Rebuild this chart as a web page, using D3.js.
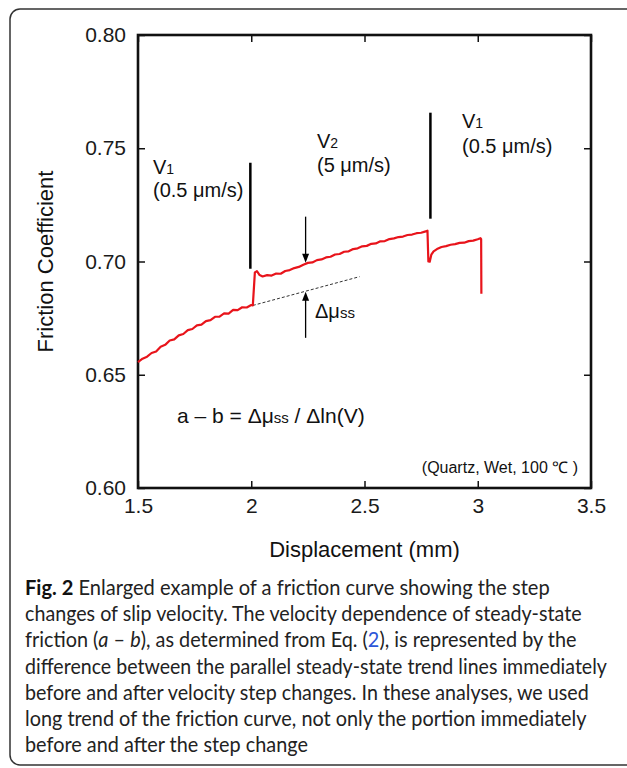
<!DOCTYPE html>
<html>
<head>
<meta charset="utf-8">
<script src="https://cdn.jsdelivr.net/npm/d3@7"></script>
<style>
  body { margin: 0; background: #fff; }
  svg { display: block; }
</style>
</head>
<body>
<script>
// friction curve (displacement in mm, friction coefficient)
var disp = [1.500, 1.520, 1.540, 1.560, 1.580, 1.600, 1.620, 1.640, 1.660, 1.680,
            1.700, 1.720, 1.740, 1.760, 1.780, 1.800, 1.820, 1.840, 1.860, 1.880,
            1.900, 1.920, 1.940, 1.960, 1.980, 2.000, 2.007, 2.016, 2.025, 2.037,
            2.050, 2.070, 2.090, 2.110, 2.130, 2.150, 2.170, 2.190, 2.210, 2.230,
            2.250, 2.270, 2.290, 2.310, 2.330, 2.350, 2.370, 2.390, 2.410, 2.430,
            2.450, 2.470, 2.490, 2.510, 2.530, 2.550, 2.570, 2.590, 2.610, 2.630,
            2.650, 2.670, 2.690, 2.710, 2.730, 2.750, 2.770, 2.778, 2.782, 2.788,
            2.795, 2.805, 2.820, 2.840, 2.860, 2.880, 2.900, 2.920, 2.940, 2.960,
            2.980, 3.000, 3.012, 3.015, 3.016];
var mu = [0.6556, 0.6571, 0.6580, 0.6596, 0.6603, 0.6624, 0.6632, 0.6651, 0.6656, 0.6674,
          0.6680, 0.6697, 0.6702, 0.6718, 0.6721, 0.6737, 0.6741, 0.6756, 0.6757, 0.6771,
          0.6770, 0.6786, 0.6785, 0.6798, 0.6797, 0.6808, 0.6806, 0.6952, 0.6957, 0.6940,
          0.6934, 0.6940, 0.6938, 0.6947, 0.6946, 0.6958, 0.6962, 0.6971, 0.6976, 0.6986,
          0.6994, 0.6996, 0.7006, 0.7009, 0.7018, 0.7021, 0.7031, 0.7033, 0.7043, 0.7045,
          0.7055, 0.7058, 0.7067, 0.7069, 0.7078, 0.7080, 0.7089, 0.7090, 0.7099, 0.7102,
          0.7108, 0.7110, 0.7117, 0.7119, 0.7125, 0.7127, 0.7133, 0.7136, 0.7000, 0.6999,
          0.7030, 0.7045, 0.7055, 0.7064, 0.7068, 0.7074, 0.7077, 0.7082, 0.7083, 0.7090,
          0.7092, 0.7098, 0.7103, 0.7099, 0.6858];

var xTicks = [1.5, 2, 2.5, 3, 3.5];
var yTicks = [0.60, 0.65, 0.70, 0.75, 0.80];

// velocity step markers
var stepX = [1.996, 2.791];
var stepTop = [0.7436, 0.7657];
var stepBottom = [0.6968, 0.7189];

// steady-state trend line before the step
var trendX = [2.007, 2.478];
var trendY = [0.6806, 0.6933];

var caption = [
  [["Fig. 2", "b"], [" Enlarged example of a friction curve showing the step", ""]],
  [["changes of slip velocity. The velocity dependence of steady-state", ""]],
  [["friction (", ""], ["a", "i"], [" \u2013 ", ""], ["b", "i"], ["), as determined from Eq. (", ""], ["2", "link"], ["), is represented by the", ""]],
  [["difference between the parallel steady-state trend lines immediately", ""]],
  [["before and after velocity step changes. In these analyses, we used", ""]],
  [["long trend of the friction curve, not only the portion immediately", ""]],
  [["before and after the step change", ""]]
];
var captionWidth = [525, 557, 552, 582, 564, 562, 283];

var width = 627, height = 768;
var font = "'Liberation Sans', Arial, sans-serif";

var svg = d3.select("body").append("svg")
  .attr("width", width)
  .attr("height", height);

// figure frame
svg.append("rect")
  .attr("x", 10).attr("y", 9)
  .attr("width", 660).attr("height", 756)
  .attr("rx", 10)
  .attr("fill", "none")
  .attr("stroke", "#333")
  .attr("stroke-width", 1.5);

var x = d3.scaleLinear().domain([1.5, 3.5]).range([138, 591]);
var y = d3.scaleLinear().domain([0.6, 0.8]).range([488, 35]);

function styleAxis(g) {
  g.select(".domain").remove();
  g.selectAll(".tick line").attr("stroke", "#111").attr("stroke-width", 1.5);
  g.selectAll(".tick text")
    .attr("fill", "#1a1a1a")
    .attr("font-family", font)
    .attr("font-size", "21px");
}

svg.append("g")
  .attr("transform", "translate(0,488)")
  .call(d3.axisBottom(x).tickValues(xTicks).tickSize(-7).tickPadding(10).tickFormat(d3.format("")))
  .call(styleAxis);

svg.append("g")
  .attr("transform", "translate(0,35)")
  .call(d3.axisTop(x).tickValues(xTicks).tickSize(-7).tickFormat(""))
  .call(styleAxis);

svg.append("g")
  .attr("transform", "translate(138,0)")
  .call(d3.axisLeft(y).tickValues(yTicks).tickSize(-7).tickPadding(12).tickFormat(d3.format(".2f")))
  .call(styleAxis);

svg.append("g")
  .attr("transform", "translate(591,0)")
  .call(d3.axisRight(y).tickValues(yTicks).tickSize(-7).tickFormat(""))
  .call(styleAxis);

svg.append("rect")
  .attr("x", x(1.5)).attr("y", y(0.8))
  .attr("width", x(3.5) - x(1.5))
  .attr("height", y(0.6) - y(0.8))
  .attr("fill", "none")
  .attr("stroke", "#111")
  .attr("stroke-width", 2.6);

// axis titles
svg.append("text")
  .attr("x", (x(1.5) + x(3.5)) / 2).attr("y", 557)
  .attr("text-anchor", "middle")
  .attr("font-family", font).attr("font-size", "22px").attr("fill", "#111")
  .text("Displacement (mm)");

svg.append("text")
  .attr("transform", "translate(53," + (y(0.7)) + ") rotate(-90)")
  .attr("text-anchor", "middle")
  .attr("font-family", font).attr("font-size", "22px").attr("fill", "#111")
  .text("Friction Coefficient");

// trend line
svg.append("line")
  .attr("x1", x(trendX[0])).attr("y1", y(trendY[0]))
  .attr("x2", x(trendX[1])).attr("y2", y(trendY[1]))
  .attr("stroke", "#333").attr("stroke-width", 1)
  .attr("stroke-dasharray", "3,2");

// friction curve
var line = d3.line()
  .x(function(d, i) { return x(disp[i]); })
  .y(function(d) { return y(d); });

svg.append("path")
  .datum(mu)
  .attr("d", line)
  .attr("fill", "none")
  .attr("stroke", "#e8141b")
  .attr("stroke-width", 2.2)
  .attr("stroke-linejoin", "round");

// step markers
svg.selectAll(".step")
  .data(stepX)
  .enter()
  .append("line")
  .attr("class", "step")
  .attr("x1", function(d) { return x(d); })
  .attr("x2", function(d) { return x(d); })
  .attr("y1", function(d, i) { return y(stepTop[i]); })
  .attr("y2", function(d, i) { return y(stepBottom[i]); })
  .attr("stroke", "#000")
  .attr("stroke-width", 2.5);

// arrows for delta mu
function arrow(xv, from, to) {
  var px = x(xv), y0 = y(from), y1 = y(to);
  var dir = y1 > y0 ? 1 : -1;
  svg.append("line")
    .attr("x1", px).attr("x2", px)
    .attr("y1", y0).attr("y2", y1 - dir * 6)
    .attr("stroke", "#000").attr("stroke-width", 1.3);
  svg.append("path")
    .attr("d", "M" + px + "," + y1 + "L" + (px - 3.5) + "," + (y1 - dir * 9) +
               "L" + (px + 3.5) + "," + (y1 - dir * 9) + "Z")
    .attr("fill", "#000");
}
arrow(2.24, 0.7198, 0.6995);
arrow(2.24, 0.6663, 0.6866);

// annotation text
function label(px, py, parts, size) {
  var t = svg.append("text")
    .attr("x", px).attr("y", py)
    .attr("font-family", font).attr("font-size", size + "px").attr("fill", "#111");
  parts.forEach(function(p) {
    var s = t.append("tspan").text(p[0]);
    if (p[1]) s.attr("font-size", p[1] + "px");
  });
  return t;
}

label(153, 174, [["V"], ["1", 14]], 20);
label(153, 197, [["(0.5 \u03bcm/s)"]], 20);
label(317, 148, [["V"], ["2", 14]], 20);
label(317, 172, [["(5 \u03bcm/s)"]], 20);
label(462, 128, [["V"], ["1", 14]], 20);
label(462, 153, [["(0.5 \u03bcm/s)"]], 20);
label(315, 318, [["\u0394\u03bc"], ["ss", 15]], 20);
label(177, 423, [["a \u2013 b = \u0394\u03bc"], ["ss", 15], [" / \u0394ln(V)"]], 21);

svg.append("text")
  .attr("x", 578).attr("y", 473)
  .attr("text-anchor", "end")
  .attr("font-family", font).attr("font-size", "16px").attr("fill", "#111")
  .text("(Quartz, Wet, 100 \u2103 )");

// caption
var capFont = "Lato, 'Open Sans', sans-serif";
caption.forEach(function(parts, i) {
  var g = svg.append("g").attr("transform", "translate(25," + (595 + i * 26.2) + ")");
  var t = g.append("text")
    .attr("font-family", capFont).attr("font-size", "21px").attr("fill", "#222");
  parts.forEach(function(p) {
    var s = t.append("tspan").text(p[0]);
    if (p[1] === "b") s.attr("font-weight", "bold").attr("fill", "#111");
    if (p[1] === "i") s.attr("font-style", "italic");
    if (p[1] === "link") s.attr("fill", "#2c56d8");
  });
  var w = t.node().getComputedTextLength();
  t.attr("transform", "scale(" + (captionWidth[i] / w) + ",1)");
});
</script>
</body>
</html>
